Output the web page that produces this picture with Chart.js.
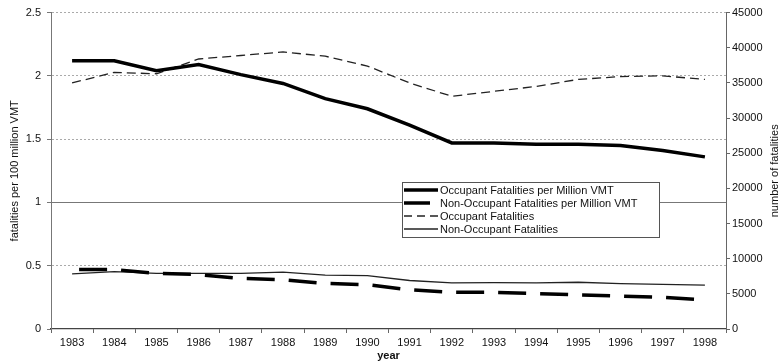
<!DOCTYPE html>
<html>
<head>
<meta charset="utf-8">
<script src="https://cdn.jsdelivr.net/npm/chart.js@4"></script>
<style>
  html, body { margin: 0; padding: 0; background: #fff; }
  #wrap { width: 784px; height: 363px; }
</style>
</head>
<body>
<div id="wrap"><canvas id="fatalChart" width="784" height="363"></canvas></div>
<script>
// 연도
const years = ['1983', '1984', '1985', '1986', '1987', '1988', '1989', '1990',
               '1991', '1992', '1993', '1994', '1995', '1996', '1997', '1998'];

// left axis : fatalities per 100 million VMT
const occupantPerVmt    = [2.12, 2.12, 2.04, 2.09, 2.01, 1.94, 1.82, 1.74, 1.61, 1.47, 1.47, 1.46, 1.46, 1.45, 1.41, 1.36];
const nonOccupantPerVmt = [0.47, 0.47, 0.44, 0.43, 0.40, 0.39, 0.36, 0.35, 0.31, 0.29, 0.29, 0.28, 0.27, 0.26, 0.25, 0.23];

// right axis : number of fatalities
const occupantFatalities    = [35000, 36500, 36300, 38400, 38900, 39400, 38800, 37400, 35000, 33100, 33800, 34500, 35500, 35900, 36000, 35500];
const nonOccupantFatalities = [7850, 8150, 7900, 7900, 7900, 8100, 7650, 7600, 6900, 6550, 6600, 6550, 6650, 6450, 6350, 6250];

const seriesLabels = [
    'Occupant Fatalities per Million VMT',
    'Non-Occupant Fatalities per Million VMT',
    'Occupant Fatalities',
    'Non-Occupant Fatalities'
];

const rightTitle = 'number of fatalities';

const FONT = 'Liberation Sans, Arial, sans-serif';

/**
 * legend inside plot area (excel style box) + right axis title (reads bottom to top)
 */
const boxLegend = {
    id: 'boxLegend',
    afterDatasetsDraw(chart) {
        const ctx = chart.ctx;
        const x = 402, y = 182, w = 257, h = 55;
        ctx.save();
        ctx.fillStyle = '#fff';
        ctx.fillRect(x, y, w, h);
        ctx.strokeStyle = '#555';
        ctx.lineWidth = 1;
        ctx.strokeRect(x + 0.5, y + 0.5, w, h);
        ctx.font = '11px ' + FONT;
        ctx.textBaseline = 'middle';
        ctx.fillStyle = '#111';
        chart.data.datasets.forEach((ds, i) => {
            const ry = y + 8 + i * 13;
            ctx.beginPath();
            ctx.setLineDash(ds.legendDash || []);
            ctx.lineWidth = ds.borderWidth;
            ctx.strokeStyle = ds.borderColor;
            ctx.moveTo(x + 2, ry);
            ctx.lineTo(x + 36, ry);
            ctx.stroke();
            ctx.setLineDash([]);
            ctx.fillText(ds.label, x + 38, ry + 1);
        });
        ctx.restore();
    },
    afterDraw(chart) {
        const ctx = chart.ctx;
        const sc = chart.scales.y1;
        ctx.save();
        ctx.translate(775, (sc.top + sc.bottom) / 2);
        ctx.rotate(-Math.PI / 2);
        ctx.font = '11px ' + FONT;
        ctx.fillStyle = '#111';
        ctx.textAlign = 'center';
        ctx.textBaseline = 'middle';
        ctx.fillText(rightTitle, 0, 0);
        ctx.restore();
    }
};

function setChartConfig() {
    let config = {
        type: 'line',
        data: {
            labels: years,
            datasets: [{
                label: seriesLabels[0],
                data: occupantPerVmt,
                yAxisID: 'y',
                borderColor: '#000',
                borderWidth: 3.5,
                legendDash: []
            }, {
                label: seriesLabels[1],
                data: nonOccupantPerVmt,
                yAxisID: 'y',
                borderColor: '#000',
                borderWidth: 3.5,
                borderDash: [28, 14],
                borderDashOffset: -7,
                legendDash: [26, 10]
            }, {
                label: seriesLabels[2],
                data: occupantFatalities,
                yAxisID: 'y1',
                borderColor: '#222',
                borderWidth: 1.3,
                borderDash: [9, 5],
                legendDash: [8, 5]
            }, {
                label: seriesLabels[3],
                data: nonOccupantFatalities,
                yAxisID: 'y1',
                borderColor: '#222',
                borderWidth: 1.3,
                legendDash: []
            }]
        },
        options: {
            responsive: false,
            animation: { duration: 0 },
            layout: { padding: { top: 12, left: 0, right: 0, bottom: 0 } },
            elements: {
                point: { radius: 0 },
                line: { tension: 0, borderCapStyle: 'butt' }
            },
            plugins: {
                legend: { display: false },
                tooltip: { enabled: false }
            },
            scales: {
                x: {
                    offset: true,
                    afterFit: (s) => { s.height = 34; },
                    grid: {
                        offset: true,
                        drawOnChartArea: false,
                        tickLength: 4,
                        tickColor: '#666'
                    },
                    border: { color: '#444', width: 1.2 },
                    ticks: {
                        color: '#111',
                        padding: 3,
                        maxRotation: 0,
                        autoSkip: false,
                        font: { family: FONT, size: 11 }
                    },
                    title: {
                        display: true,
                        text: 'year',
                        color: '#111',
                        padding: { top: 0, bottom: 0 },
                        font: { family: FONT, size: 11, weight: 'bold' }
                    }
                },
                y: {
                    position: 'left',
                    min: 0,
                    max: 2.5,
                    afterFit: (s) => { s.width = 51; },
                    grid: {
                        color: (c) => {
                            if (!c.tick) return '#999';
                            if (c.tick.value === 0) return 'rgba(0,0,0,0)';
                            return c.tick.value === 1 ? '#777' : '#aaa';
                        },
                        lineWidth: 1,
                        tickLength: 4,
                        tickColor: '#777'
                    },
                    border: {
                        color: '#777',
                        dash: (c) => (c.tick && c.tick.value !== 1) ? [2, 2] : []
                    },
                    ticks: {
                        stepSize: 0.5,
                        color: '#111',
                        padding: 6,
                        font: { family: FONT, size: 11 },
                        callback: (v) => String(v)
                    },
                    title: {
                        display: true,
                        text: 'fatalities per 100 million VMT',
                        color: '#111',
                        padding: { top: 8, bottom: 2 },
                        font: { family: FONT, size: 11 }
                    }
                },
                y1: {
                    position: 'right',
                    min: 0,
                    max: 45000,
                    afterFit: (s) => { s.width = 58; },
                    grid: {
                        drawOnChartArea: false,
                        tickLength: 4,
                        tickColor: '#666'
                    },
                    border: { color: '#666' },
                    ticks: {
                        stepSize: 5000,
                        color: '#111',
                        padding: 2,
                        font: { family: FONT, size: 11 },
                        callback: (v) => String(v)
                    }
                }
            }
        },
        plugins: [boxLegend]
    };
    return config;
}

let fatalChart = new Chart(document.getElementById('fatalChart'), setChartConfig());
</script>
</body>
</html>
